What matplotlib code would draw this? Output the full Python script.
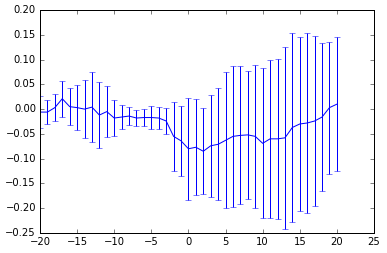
import numpy as np
import matplotlib
matplotlib.use('Agg')
import matplotlib.pyplot as plt

# data
x = np.arange(-20, 21)
y = [-0.006, -0.006, 0.003, 0.021, 0.005, 0.003, 0.0, 0.004, -0.012, -0.005,
     -0.018, -0.016, -0.014, -0.018, -0.017, -0.017, -0.018, -0.024, -0.055, -0.064,
     -0.080, -0.077, -0.085, -0.074, -0.071, -0.063, -0.055, -0.053, -0.052, -0.055,
     -0.069, -0.060, -0.060, -0.058, -0.037, -0.030, -0.028, -0.024, -0.016, 0.003,
     0.010]
err = [0.032, 0.025, 0.028, 0.036, 0.037, 0.046, 0.059, 0.070, 0.066, 0.051,
       0.037, 0.025, 0.019, 0.016, 0.018, 0.024, 0.023, 0.027, 0.070, 0.071,
       0.103, 0.097, 0.087, 0.103, 0.113, 0.137, 0.143, 0.139, 0.129, 0.144,
       0.151, 0.160, 0.161, 0.184, 0.191, 0.176, 0.182, 0.172, 0.150, 0.133,
       0.135]

plt.style.use('classic')
fig = plt.figure(figsize=(387 / 72, 253 / 72), dpi=72)
ax = fig.add_axes([40 / 387, 20 / 253, 334 / 387, 223 / 253])
ax.errorbar(x, y, yerr=err, color='b')
ax.set_xlim(-20, 25)
ax.set_ylim(-0.25, 0.20)
ax.set_xticks(np.arange(-20, 26, 5))
ax.set_yticks(np.arange(-0.25, 0.201, 0.05))
ax.tick_params(labelsize=10)
fig.savefig('out.png', dpi=72)
